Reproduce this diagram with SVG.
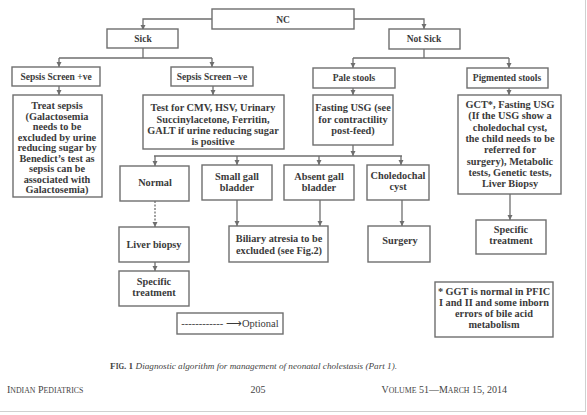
<svg xmlns="http://www.w3.org/2000/svg" width="587" height="415" viewBox="0 0 587 415">
<defs>
<style>
.b{fill:#fff;stroke:#6e6e6e;stroke-width:1.4}
.t{font-family:"Liberation Serif","Times New Roman",serif;font-size:9.5px;font-weight:bold;fill:#3a3a3a;text-anchor:middle}
.m{font-size:10.3px}
.c{fill:none;stroke:#6e6e6e;stroke-width:1.3}
.d{fill:none;stroke:#6e6e6e;stroke-width:1.3;stroke-dasharray:2,1.5}
.cap{font-family:"Liberation Serif","Times New Roman",serif;font-size:9.2px;fill:#444}
.f{font-family:"Liberation Serif","Times New Roman",serif;font-size:10px;fill:#444}
</style>
<marker id="a" viewBox="0 0 6 6" refX="6" refY="3" markerWidth="4" markerHeight="4" orient="auto">
<path d="M0,0 L6,3 L0,6 z" fill="#6e6e6e"/>
</marker>
</defs>
<rect width="587" height="415" fill="#fff"/>
<line x1="585.5" y1="0" x2="585.5" y2="412" stroke="#d0d0d0" stroke-width="1"/>
<line x1="0" y1="411.5" x2="586" y2="411.5" stroke="#d0d0d0" stroke-width="1"/>

<g id="connectors">
<polyline class="c" points="212,19 143,19 143,30" marker-end="url(#a)"/>
<polyline class="c" points="354,19 424,19 424,29" marker-end="url(#a)"/>
<line class="c" x1="143" y1="48" x2="143" y2="58"/>
<line class="c" x1="59" y1="58" x2="212" y2="58"/>
<line class="c" x1="59" y1="58" x2="59" y2="67" marker-end="url(#a)"/>
<line class="c" x1="212" y1="58" x2="212" y2="67" marker-end="url(#a)"/>
<line class="c" x1="424" y1="49" x2="424" y2="58"/>
<line class="c" x1="353" y1="58" x2="509" y2="58"/>
<line class="c" x1="353" y1="58" x2="353" y2="68" marker-end="url(#a)"/>
<line class="c" x1="509" y1="58" x2="509" y2="68" marker-end="url(#a)"/>
<line class="c" x1="59" y1="86" x2="59" y2="95" marker-end="url(#a)"/>
<line class="c" x1="213" y1="86" x2="213" y2="95" marker-end="url(#a)"/>
<line class="c" x1="353" y1="88" x2="353" y2="95" marker-end="url(#a)"/>
<line class="c" x1="509" y1="88" x2="509" y2="95" marker-end="url(#a)"/>
<line class="c" x1="353" y1="145" x2="353" y2="156" marker-end="url(#a)"/>
<line class="c" x1="154" y1="156" x2="402" y2="156"/>
<line class="c" x1="155" y1="156" x2="155" y2="166" marker-end="url(#a)"/>
<line class="c" x1="237" y1="156" x2="237" y2="165" marker-end="url(#a)"/>
<line class="c" x1="319" y1="156" x2="319" y2="165" marker-end="url(#a)"/>
<line class="c" x1="401" y1="156" x2="401" y2="165" marker-end="url(#a)"/>
<line class="d" x1="155" y1="201" x2="155" y2="227" marker-end="url(#a)"/>
<line class="c" x1="155" y1="262" x2="155" y2="271" marker-end="url(#a)"/>
<line class="c" x1="237" y1="200" x2="237" y2="226" marker-end="url(#a)"/>
<line class="c" x1="320" y1="200" x2="320" y2="226" marker-end="url(#a)"/>
<line class="c" x1="402" y1="200" x2="402" y2="226" marker-end="url(#a)"/>
<line class="c" x1="510" y1="194" x2="510" y2="220" marker-end="url(#a)"/>
</g>

<g id="nc"><rect class="b" x="212" y="9" width="142" height="20"/><text class="t" x="283" y="22.5">NC</text></g>
<g id="sick"><rect class="b" x="107" y="29" width="71" height="19"/><text class="t" x="143" y="42">Sick</text></g>
<g id="notsick"><rect class="b" x="389" y="29" width="71" height="20"/><text class="t" x="424" y="42">Not Sick</text></g>
<g id="sepsispos"><rect class="b" x="12" y="67" width="88" height="19"/><text class="t" x="56" y="80">Sepsis Screen +ve</text></g>
<g id="sepsisneg"><rect class="b" x="171" y="67" width="82" height="19"/><text class="t" x="212" y="80">Sepsis Screen –ve</text></g>
<g id="pale"><rect class="b" x="313" y="68" width="82" height="20"/><text class="t" x="354" y="81">Pale stools</text></g>
<g id="pigmented"><rect class="b" x="467" y="68" width="81" height="20"/><text class="t" x="507" y="81">Pigmented stools</text></g>

<g id="treat" class="t m"><rect class="b" x="13" y="95" width="89" height="102"/>
<text class="t m" x="57" y="109">Treat sepsis</text>
<text class="t m" x="57" y="119.5">(Galactosemia</text>
<text class="t m" x="57" y="130">needs to be</text>
<text class="t m" x="57" y="140.5">excluded by urine</text>
<text class="t m" x="57" y="151">reducing sugar by</text>
<text class="t m" x="57" y="161.5">Benedict’s test as</text>
<text class="t m" x="57" y="172">sepsis can be</text>
<text class="t m" x="57" y="182.5">associated with</text>
<text class="t m" x="57" y="193">Galactosemia)</text>
</g>
<g id="test"><rect class="b" x="143" y="95" width="141" height="54"/>
<text class="t m" x="213" y="111">Test for CMV, HSV, Urinary</text>
<text class="t m" x="213" y="122.5">Succinylacetone, Ferritin,</text>
<text class="t m" x="213" y="134">GALT if urine reducing sugar</text>
<text class="t m" x="213" y="145">is positive</text>
</g>
<g id="fasting"><rect class="b" x="313" y="95" width="80" height="50"/>
<text class="t m" x="353" y="111">Fasting USG (see</text>
<text class="t m" x="353" y="122.5">for contractility</text>
<text class="t m" x="353" y="134">post-feed)</text>
</g>
<g id="gct"><rect class="b" x="458" y="95" width="103" height="99"/>
<text class="t m" x="510" y="108">GCT*, Fasting USG</text>
<text class="t m" x="510" y="119.3">(If the USG show a</text>
<text class="t m" x="510" y="130.6">choledochal cyst,</text>
<text class="t m" x="510" y="141.9">the child needs to be</text>
<text class="t m" x="510" y="153.2">referred for</text>
<text class="t m" x="510" y="164.5">surgery), Metabolic</text>
<text class="t m" x="510" y="175.8">tests, Genetic tests,</text>
<text class="t m" x="510" y="187.1">Liver Biopsy</text>
</g>
<g id="normal"><rect class="b" x="120" y="166" width="69" height="35"/><text class="t m" x="155" y="186">Normal</text></g>
<g id="small"><rect class="b" x="202" y="165" width="70" height="35"/>
<text class="t m" x="237" y="180">Small gall</text><text class="t m" x="237" y="191">bladder</text></g>
<g id="absent"><rect class="b" x="284" y="165" width="70" height="35"/>
<text class="t m" x="319" y="180">Absent gall</text><text class="t m" x="319" y="191">bladder</text></g>
<g id="choledochal"><rect class="b" x="367" y="165" width="62" height="35"/>
<text class="t m" x="398" y="179">Choledochal</text><text class="t m" x="398" y="190">cyst</text></g>
<g id="liverbiopsy"><rect class="b" x="119" y="227" width="70" height="35"/><text class="t m" x="154" y="247.5">Liver biopsy</text></g>
<g id="biliary"><rect class="b" x="229" y="226" width="99" height="36"/>
<text class="t m" x="279" y="242">Biliary atresia to be</text><text class="t m" x="279" y="254">excluded (see Fig.2)</text></g>
<g id="surgery"><rect class="b" x="368" y="226" width="62" height="36"/><text class="t m" x="400" y="244">Surgery</text></g>
<g id="specific1"><rect class="b" x="119" y="271" width="70" height="35"/>
<text class="t m" x="154" y="285">Specific</text><text class="t m" x="154" y="296">treatment</text></g>
<g id="specific2"><rect class="b" x="476" y="220" width="70" height="34"/>
<text class="t m" x="511" y="233">Specific</text><text class="t m" x="511" y="244">treatment</text></g>
<g id="ggt"><rect class="b" x="435" y="282" width="118" height="55"/>
<text class="t m" x="494" y="295">* GGT is normal in PFIC</text>
<text class="t m" x="494" y="306">I and II and some inborn</text>
<text class="t m" x="494" y="317">errors of bile acid</text>
<text class="t m" x="494" y="328">metabolism</text>
</g>
<g id="legend"><rect class="b" x="177" y="313" width="106" height="21"/>
<text class="t" x="230" y="327" style="font-weight:normal;font-size:10.5px">------------ ⟶Optional</text></g>

<text class="cap" x="110" y="369"><tspan font-weight="bold">F<tspan font-size="7.2">IG</tspan>. 1</tspan><tspan font-style="italic"> Diagnostic algorithm for management of neonatal cholestasis (Part 1).</tspan></text>
<text class="f" x="7" y="392.5">I<tspan font-size="7.8">NDIAN</tspan> P<tspan font-size="7.8">EDIATRICS</tspan></text>
<text class="f" x="258" y="392.5" text-anchor="middle">205</text>
<text class="f" x="507" y="392.5" text-anchor="end">V<tspan font-size="7.8">OLUME</tspan> 51—M<tspan font-size="7.8">ARCH</tspan> 15, 2014</text>
</svg>
